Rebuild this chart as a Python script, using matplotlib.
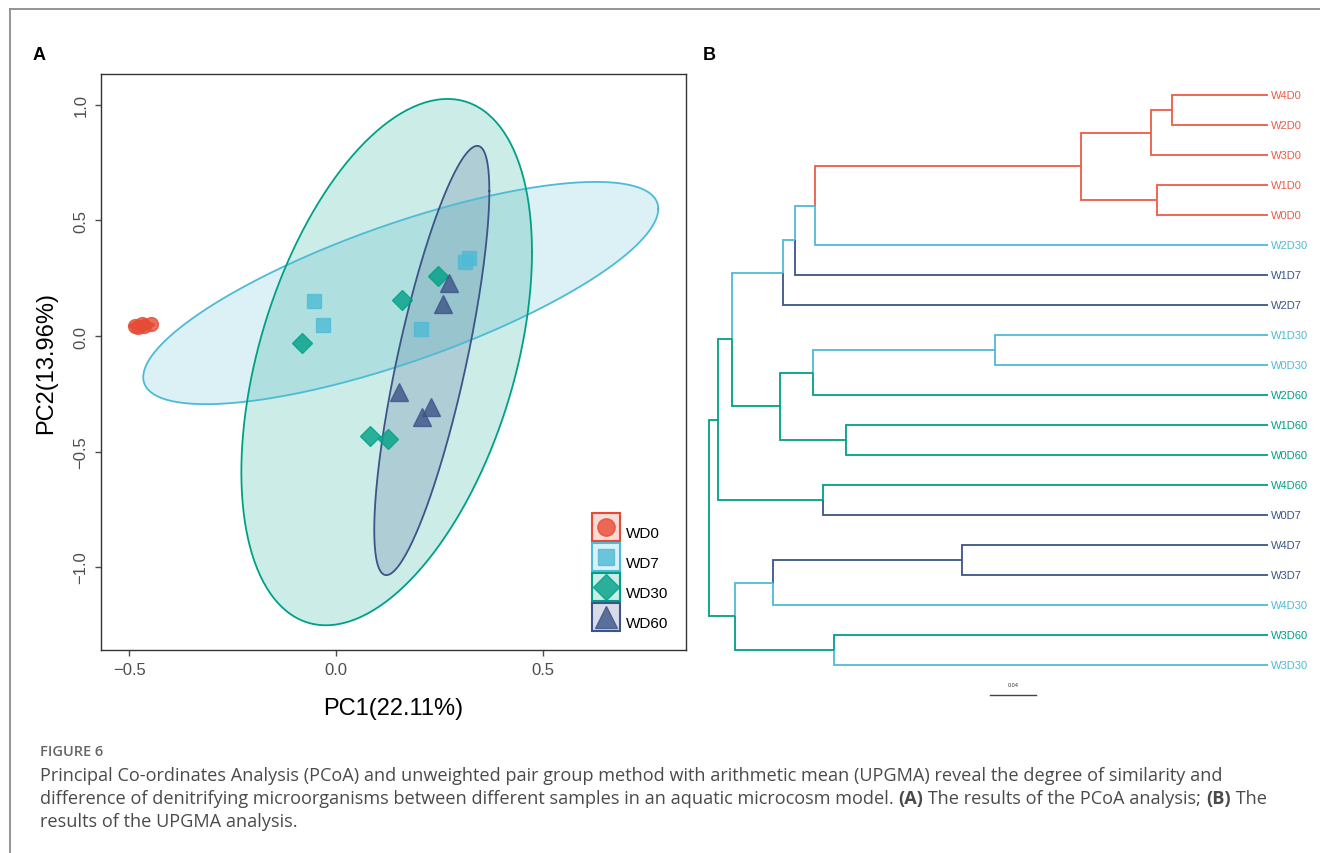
import numpy as np
import matplotlib
matplotlib.use("Agg")
import matplotlib.pyplot as plt
from matplotlib.lines import Line2D

plt.rcParams['font.family'] = ['Liberation Sans', 'DejaVu Sans']

W, H = 1320, 854

# ---- panel A: PCoA ----
groups = ["WD0", "WD7", "WD30", "WD60"]
colors = ["#E64B35", "#4DBBD5", "#00A087", "#3C5488"]
markers = ["o", "s", "D", "^"]
msizes = [10, 9.5, 10.5, 12.5]

pc1 = {
    "WD0": [-0.485, -0.478, -0.470, -0.465, -0.448],
    "WD7": [-0.053, -0.031, 0.205, 0.312, 0.321],
    "WD30": [-0.082, 0.160, 0.247, 0.082, 0.126],
    "WD60": [0.273, 0.259, 0.152, 0.230, 0.208],
}
pc2 = {
    "WD0": [0.045, 0.040, 0.050, 0.042, 0.052],
    "WD7": [0.152, 0.048, 0.030, 0.320, 0.338],
    "WD30": [-0.030, 0.156, 0.260, -0.433, -0.446],
    "WD60": [0.229, 0.139, -0.242, -0.307, -0.351],
}

# ellipse: centre, half extent in x / y, correlation
ell_cx = [-0.470, 0.156, 0.122, 0.231]
ell_cy = [0.046, 0.186, -0.113, -0.106]
ell_hx = [0.030, 0.622, 0.351, 0.139]
ell_hy = [0.012, 0.481, 1.139, 0.929]
ell_rho = [0.2, 0.757, 0.418, 0.79]

# ---- panel B: UPGMA tree ----
leaves = ["W4D0", "W2D0", "W3D0", "W1D0", "W0D0", "W2D30", "W1D7", "W2D7",
          "W1D30", "W0D30", "W2D60", "W1D60", "W0D60", "W4D60", "W0D7",
          "W4D7", "W3D7", "W4D30", "W3D60", "W3D30"]
day_color = {"D0": "#EE5A48", "D7": "#3C5488", "D30": "#4DBBD5", "D60": "#00A087"}

# node: (left, right, height from tips, branch colour)
nodes = {
    "n1": ("W4D0", "W2D0", 0.083, "D0"),
    "n2": ("n1", "W3D0", 0.101, "D0"),
    "n3": ("W1D0", "W0D0", 0.096, "D0"),
    "n4": ("n2", "n3", 0.162, "D0"),
    "n5": ("n4", "W2D30", 0.394, "D30"),
    "n6": ("n5", "W1D7", 0.411, "D30"),
    "n7": ("n6", "W2D7", 0.421, "D30"),
    "n8": ("W1D30", "W0D30", 0.237, "D30"),
    "n9": ("n8", "W2D60", 0.395, "D60"),
    "n10": ("W1D60", "W0D60", 0.367, "D60"),
    "n11": ("n9", "n10", 0.424, "D60"),
    "n12": ("n7", "n11", 0.466, "D60"),
    "n13": ("W4D60", "W0D7", 0.387, "D60"),
    "n14": ("n12", "n13", 0.478, "D60"),
    "n15": ("W4D7", "W3D7", 0.266, "D7"),
    "n16": ("n15", "W4D30", 0.430, "D30"),
    "n17": ("W3D60", "W3D30", 0.377, "D60"),
    "n18": ("n16", "n17", 0.463, "D60"),
    "root": ("n14", "n18", 0.486, "D60"),
}
scale_len = 0.04


def fig_rect(l, t, r, b):
    return [l / W, 1 - b / H, (r - l) / W, (b - t) / H]


fig = plt.figure(figsize=(W / 100, H / 100), dpi=100)

# outer frame
fig.add_artist(Line2D([10 / W, 10 / W], [0, 1 - 10 / H], color="#8c8c8c", lw=1.3,
                      transform=fig.transFigure))
fig.add_artist(Line2D([10 / W, 1], [1 - 10 / H, 1 - 10 / H], color="#8c8c8c", lw=1.3,
                      transform=fig.transFigure))

ax = fig.add_axes(fig_rect(101, 75, 686, 651))
t = np.linspace(0, 2 * np.pi, 300)
for i, g in enumerate(groups):
    ex = ell_cx[i] + ell_hx[i] * np.cos(t)
    ey = ell_cy[i] + ell_hy[i] * (ell_rho[i] * np.cos(t) + np.sqrt(1 - ell_rho[i] ** 2) * np.sin(t))
    ax.fill(ex, ey, facecolor=colors[i], alpha=0.2, edgecolor="none", zorder=1)
    ax.plot(ex, ey, color=colors[i], lw=1.3, zorder=2)
for i, g in enumerate(groups):
    ax.plot(pc1[g], pc2[g], linestyle="none", marker=markers[i], ms=msizes[i],
            color=colors[i], alpha=0.8, mec=colors[i], zorder=3)

ax.set_xlim(-0.568, 0.845)
ax.set_ylim(-1.359, 1.134)
ax.set_xticks([-0.5, 0.0, 0.5])
ax.set_yticks([-1.0, -0.5, 0.0, 0.5, 1.0])
ax.set_xticklabels(["\u22120.5", "0.0", "0.5"])
ax.set_yticklabels(["\u22121.0", "\u22120.5", "0.0", "0.5", "1.0"], rotation=90, va="center")
ax.tick_params(labelsize=12, colors="#4D4D4D", length=4, width=1, pad=5)
for s in ax.spines.values():
    s.set_color("#333333")
    s.set_linewidth(1.0)
ax.set_xlabel("PC1(22.11%)", fontsize=17, labelpad=14)
ax.set_ylabel("PC2(13.96%)", fontsize=17, labelpad=12)

handles = []
for i, g in enumerate(groups):
    box = Line2D([], [], linestyle="none", marker="s", ms=20,
                 mfc=matplotlib.colors.to_rgba(colors[i], 0.2), mec=colors[i], mew=1.5)
    m = Line2D([], [], linestyle="none", marker=markers[i], ms=msizes[i] * 1.25,
               color=colors[i], alpha=0.8)
    handles.append((box, m))
ax.legend(handles, groups, loc="upper left", bbox_to_anchor=(0.838, 0.2296),
          frameon=False, fontsize=11, handlelength=1.9, handleheight=2.54,
          labelspacing=0.065, handletextpad=0.35, borderpad=0, borderaxespad=0)

fig.text(33 / W, 1 - 55 / H, "A", fontsize=13, fontweight="bold", va="center")
fig.text(703 / W, 1 - 55 / H, "B", fontsize=13, fontweight="bold", va="center")

# dendrogram
bx = fig.add_axes(fig_rect(700, 66, 1320, 726))
bx.axis("off")
root_h = nodes["root"][2]
bx.set_xlim(-0.0076, -0.0076 + 620 / 1150)
bx.set_ylim(21, -1)

ypos = {}
for i, lf in enumerate(leaves):
    ypos[lf] = i


def node_y(n):
    if n in ypos:
        return ypos[n]
    l, r, _, _ = nodes[n]
    ypos[n] = (node_y(l) + node_y(r)) / 2
    return ypos[n]


def xpos(n):
    if n in nodes:
        return root_h - nodes[n][2]
    return root_h


def color_of(n):
    if n in nodes:
        return day_color[nodes[n][3]]
    return day_color[n[2:]]


for n, (l, r, h, c) in nodes.items():
    px = root_h - h
    py = node_y(n)
    for ch in (l, r):
        cy = node_y(ch)
        col = color_of(ch)
        bx.plot([px, px, xpos(ch)], [py, cy, cy], color=col, lw=1.3,
                solid_joinstyle="miter", solid_capstyle="butt")

for lf in leaves:
    bx.text(root_h + 0.003, ypos[lf], lf, color=color_of(lf), fontsize=8,
            va="center", ha="left", clip_on=False)

sb_x = 0.2446
bx.plot([sb_x, sb_x + scale_len], [20, 20], color="#444444", lw=1.0)
bx.text(sb_x + scale_len / 2, 19.65, "0.04", fontsize=4, ha="center", va="center", color="#333333")

# caption
cap_font = ['Open Sans', 'DejaVu Sans']
fig.text(40 / W, 1 - 752 / H, "FIGURE 6", fontsize=10.5, color="#666666", va="center",
         family=cap_font, fontweight="semibold")
cap_kw = dict(fontsize=13.1, color="#4a4a4a", va="center", family=cap_font)
fig.text(40 / W, 1 - 776 / H,
         "Principal Co-ordinates Analysis (PCoA) and unweighted pair group method with arithmetic "
         "mean (UPGMA) reveal the degree of similarity and", **cap_kw)

pieces = [("difference of denitrifying microorganisms between different samples in an aquatic "
           "microcosm model. ", "normal"), ("(A)", "bold"),
          (" The results of the PCoA analysis; ", "normal"), ("(B)", "bold"), (" The", "normal")]
fig.canvas.draw()
rend = fig.canvas.get_renderer()
xcur = 40
for txt, wgt in pieces:
    tt = fig.text(xcur / W, 1 - 799 / H, txt, fontweight=wgt, **cap_kw)
    bb = tt.get_window_extent(rend)
    xcur += bb.width
fig.text(40 / W, 1 - 822 / H, "results of the UPGMA analysis.", **cap_kw)

fig.savefig("out.png", dpi=100)
